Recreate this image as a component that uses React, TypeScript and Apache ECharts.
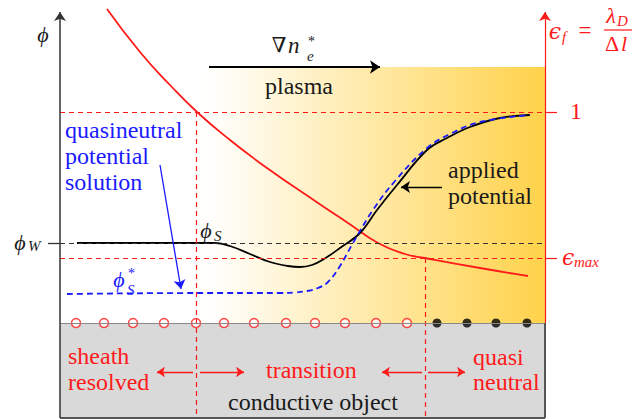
import React, { useEffect, useRef } from "react";
import * as echarts from "echarts";

// Schematic coordinates: chart units, x to the right, y downward (0..633 x 0..419)
const cellNodesResolved = [76, 104, 133, 164, 196, 224, 254, 286, 315, 345, 376, 407];
const cellNodesQuasi = [437, 467, 496, 527];
const wallLevel = 323;

const epsX = [107, 140, 170, 197, 230, 267, 318, 348, 378, 405, 425, 480, 528];
const epsY = [9, 52, 85, 112, 140, 168, 203, 223, 243, 254, 258, 268, 276];

const appliedX = [77, 196, 215, 230, 250, 270, 288, 300, 312, 324, 340, 360, 377, 397, 427, 447, 470, 500, 530];
const appliedY = [243, 243, 243, 246, 254, 262, 266, 267, 265, 259, 248, 233, 210, 185, 150, 138, 127, 118, 115];

const qnX = [67, 200, 280, 295, 307, 318, 328, 340, 353, 373, 395, 427, 450, 480, 530];
const qnY = [294, 293, 293, 292.5, 291, 288, 282, 266, 243, 210, 181, 148, 134, 122, 115];

const levelOne = 112;
const levelPhiW = 243;
const levelEpsMax = 258;
const sheathBoundaryX = 196;
const quasiBoundaryX = 425;
const plasmaTop = 67;
const axisLeftX = 60;
const axisRightX = 545;
const axisTop = 8;
const objectBottom = 418;

const RED = "#ff1a1a";
const BLUE = "#1a1aff";
const INK = "#1a1a1a";
const SERIF = "Liberation Serif";
const GREEK = "DejaVu Serif";
const WORD = 24;

const zip = (xs: number[], ys: number[]) => xs.map((x, i) => [x, ys[i]]);

export default function App() {
  const ref = useRef<HTMLDivElement>(null);
  useEffect(() => {
    document.body.style.margin = "0";
    const chart = echarts.init(ref.current!, undefined, { renderer: "svg" });

    const redDash = { color: RED, width: 1.2, type: [5, 4] };
    const blackDash = { color: "#333", width: 1.2, type: [5, 4] };
    const seg = (a: number[], b: number[], style: any, endSize?: number) => [
      { coord: a, lineStyle: style },
      endSize ? { coord: b, symbolSize: endSize } : { coord: b },
    ];

    const txt = (
      text: string,
      x: number,
      y: number,
      o: { size?: number; color?: string; italic?: boolean; align?: string; family?: string } = {}
    ) => ({
      type: "text",
      z: 100,
      x,
      y,
      style: {
        text,
        fill: o.color || INK,
        font: `${o.italic ? "italic" : "normal"} normal ${o.size || WORD}px "${o.family || SERIF}"`,
        align: o.align || "left",
        verticalAlign: "middle",
      },
    });

    const option: any = {
      animation: false,
      textStyle: { fontFamily: SERIF },
      grid: { left: 0, right: 0, top: 0, bottom: 0 },
      xAxis: { type: "value", min: 0, max: 633, show: false },
      yAxis: { type: "value", min: 0, max: 419, inverse: true, show: false },
      series: [
        {
          type: "line",
          data: [[axisLeftX, objectBottom]],
          showSymbol: false,
          silent: true,
          lineStyle: { opacity: 0 },
          markArea: {
            silent: true,
            label: { show: false },
            data: [
              [
                {
                  coord: [sheathBoundaryX, plasmaTop],
                  itemStyle: {
                    color: new echarts.graphic.LinearGradient(0, 0, 1, 0, [
                      { offset: 0, color: "rgba(255,255,255,1)" },
                      { offset: 0.06, color: "rgba(255,254,250,1)" },
                      { offset: 1, color: "#ffd24a" },
                    ]),
                  },
                },
                { coord: [axisRightX, wallLevel] },
              ],
              [
                { coord: [axisLeftX, wallLevel], itemStyle: { color: "#d9d9d9" } },
                { coord: [axisRightX, objectBottom] },
              ],
            ],
          },
        },
        {
          type: "line",
          data: [[axisLeftX, objectBottom]],
          showSymbol: false,
          silent: true,
          lineStyle: { opacity: 0 },
          markLine: {
            silent: true,
            symbol: ["none", "none"],
            label: { show: false },
            data: [
              seg([axisLeftX, levelOne], [axisRightX, levelOne], redDash),
              seg([axisLeftX, levelPhiW], [axisRightX, levelPhiW], blackDash),
              seg([axisLeftX, levelEpsMax], [axisRightX, levelEpsMax], redDash),
              seg([sheathBoundaryX, levelOne], [sheathBoundaryX, objectBottom], redDash),
              seg([quasiBoundaryX, levelEpsMax], [quasiBoundaryX, objectBottom], redDash),
              seg([axisRightX, levelOne], [axisRightX + 12, levelOne], { color: RED, width: 1.2, type: "solid" }),
              seg([axisRightX, levelEpsMax], [axisRightX + 12, levelEpsMax], { color: RED, width: 1.2, type: "solid" }),
              seg([axisLeftX - 12, levelPhiW], [axisLeftX, levelPhiW], { color: "#333", width: 1.3, type: "solid" }),
              seg([axisLeftX, wallLevel], [axisRightX, wallLevel], { color: "#888", width: 1, type: "solid" }),
              seg([axisRightX, wallLevel], [axisRightX, objectBottom], { color: "#555", width: 2, type: "solid" }),
              seg([axisLeftX, objectBottom], [axisRightX, objectBottom], { color: "#555", width: 2, type: "solid" }),
            ],
          },
        },
        {
          type: "line",
          data: zip(epsX, epsY),
          smooth: 0.5,
          showSymbol: false,
          silent: true,
          lineStyle: { color: RED, width: 1.8 },
        },
        {
          type: "line",
          data: zip(appliedX, appliedY),
          smooth: 0.4,
          showSymbol: false,
          silent: true,
          lineStyle: { color: "#000", width: 1.8 },
        },
        {
          type: "line",
          data: zip(qnX, qnY),
          smooth: 0.4,
          showSymbol: false,
          silent: true,
          lineStyle: { color: BLUE, width: 1.8, type: [6, 4] },
        },
        {
          type: "line",
          data: [[axisLeftX, objectBottom]],
          showSymbol: false,
          silent: true,
          lineStyle: { opacity: 0 },
          markLine: {
            silent: true,
            symbol: ["none", "arrow"],
            symbolSize: 9,
            label: { show: false },
            data: [
              seg([axisLeftX, objectBottom], [axisLeftX, axisTop + 4], { color: "#333", width: 1.5, type: "solid" }, 9),
              seg([axisRightX, wallLevel], [axisRightX, axisTop + 4], { color: RED, width: 1.2, type: "solid" }, 9),
              seg([209, plasmaTop], [380, plasmaTop], { color: "#000", width: 2, type: "solid" }, 10),
              seg([442, 187], [401, 187], { color: "#000", width: 1.3, type: "solid" }, 9),
              seg([160, 165], [181, 289], { color: BLUE, width: 1.3, type: "solid" }, 9),
              seg([193, 372], [157, 372], { color: RED, width: 1.3, type: "solid" }, 8),
              seg([200, 372], [244, 372], { color: RED, width: 1.3, type: "solid" }, 8),
              seg([422, 372], [382, 372], { color: RED, width: 1.3, type: "solid" }, 8),
              seg([428, 372], [465, 372], { color: RED, width: 1.3, type: "solid" }, 8),
            ],
          },
        },
        {
          type: "scatter",
          data: cellNodesResolved.map((x) => [x, wallLevel]),
          symbol: "circle",
          symbolSize: 9,
          silent: true,
          itemStyle: { color: "#fff", borderColor: RED, borderWidth: 1.5 },
        },
        {
          type: "scatter",
          data: cellNodesQuasi.map((x) => [x, wallLevel]),
          symbol: "circle",
          symbolSize: 9,
          silent: true,
          itemStyle: { color: "#000" },
        },
      ],
      graphic: [
        txt("ϕ", 43, 34, { size: 22, italic: true, align: "center" }),
        txt("∇", 279, 45, { size: 21, align: "center", family: GREEK }),
        txt("n", 288, 45, { size: 23, italic: true }),
        txt("*", 308, 41, { size: 14 }),
        txt("e", 307, 56, { size: 15, italic: true }),
        txt("plasma", 265, 86),
        txt("quasineutral", 65, 130, { color: BLUE }),
        txt("potential", 65, 156, { color: BLUE }),
        txt("solution", 65, 182, { color: BLUE }),
        txt("applied", 448, 170),
        txt("potential", 448, 196),
        txt("1", 570, 111, { color: RED }),
        txt("ϵ", 562, 257, { color: RED, italic: true, size: 22, family: GREEK }),
        txt("max", 574, 262, { color: RED, italic: true, size: 15 }),
        txt("ϕ", 20, 242, { italic: true, size: 22, align: "center" }),
        txt("W", 28, 246, { italic: true, size: 15 }),
        txt("ϕ", 206, 230, { italic: true, size: 22, align: "center" }),
        txt("S", 214, 236, { italic: true, size: 15 }),
        txt("ϕ", 119, 279, { italic: true, size: 22, align: "center", color: BLUE }),
        txt("*", 128, 273, { size: 14, color: BLUE }),
        txt("S", 127, 290, { italic: true, size: 15, color: BLUE }),
        txt("ϵ", 555, 31, { color: RED, italic: true, size: 22, align: "center", family: GREEK }),
        txt("f", 562, 37, { color: RED, italic: true, size: 15 }),
        txt("=", 585, 30, { color: RED, size: 23, align: "center" }),
        txt("λ", 611, 15, { color: RED, italic: true, size: 22, align: "center" }),
        txt("D", 617, 21, { color: RED, italic: true, size: 15 }),
        {
          type: "line",
          z: 100,
          shape: { x1: 604, y1: 30, x2: 632, y2: 30 },
          style: { stroke: RED, lineWidth: 1.2 },
        },
        txt("Δ", 612, 43, { color: RED, size: 22, align: "center" }),
        txt("l", 621, 43, { color: RED, italic: true, size: 22 }),
        txt("sheath", 68, 356, { color: RED }),
        txt("resolved", 68, 382, { color: RED }),
        txt("transition", 266, 370, { color: RED }),
        txt("quasi", 473, 357, { color: RED }),
        txt("neutral", 473, 382, { color: RED }),
        txt("conductive object", 228, 402),
      ],
    };
    chart.setOption(option);
    return () => chart.dispose();
  }, []);
  return <div ref={ref} style={{ width: 633, height: 419 }} />;
}
